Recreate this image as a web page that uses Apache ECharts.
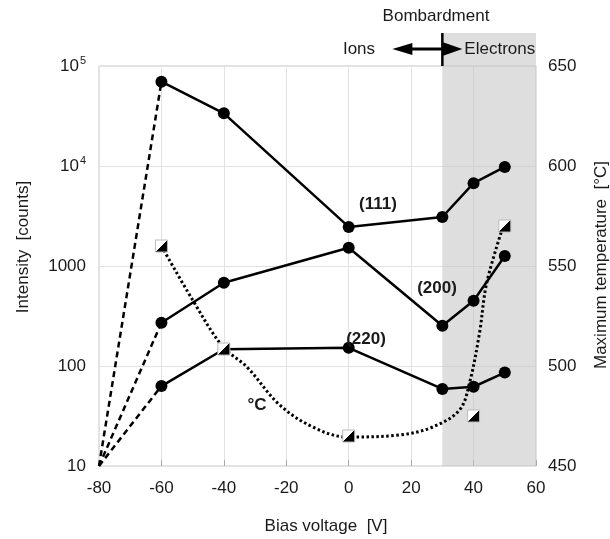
<!DOCTYPE html>
<html>
<head>
<meta charset="utf-8">
<script src="https://cdn.jsdelivr.net/npm/echarts@6/dist/echarts.min.js"></script>
<style>
html,body{margin:0;padding:0;background:#fff;}
#c{width:610px;height:539px;}
</style>
</head>
<body>
<div id="c"></div>
<script>
// ---- data ----
const xTicks = [-80, -60, -40, -20, 0, 20, 40, 60];
const leftTicks = [10, 100, 1000, 10000, 100000];
const rightTicks = [450, 500, 550, 600, 650];
const biasV = [-60, -40, 0, 30, 40, 50];
const i111 = [69700, 33600, 2460, 3090, 6740, 9780];
const i200 = [271, 681, 1524, 253, 450, 1259];
const i220 = [63, 147, 152, 59, 62, 86];
const origin = [-80, 10];
const tempV = [-60, -40, 0, 40, 50];
const tempC = [560, 508.5, 465, 475, 570];
// dotted fitted temperature curve
const tempCurveX = [-60, -50, -40.5, -32.6, -22.1, -11.5, -0.6, 16.3, 26.9, 35.5, 38.7, 41.9, 44.2, 49.5];
const tempCurveY = [560, 533, 510, 499.5, 480.5, 469.5, 464.5, 465.5, 469.5, 478, 491.5, 516.5, 541.5, 570];
const shadeRange = [30, 60];

const FONT = 'Liberation Sans, Arial, sans-serif';
const TXT = '#1a1a1a';

const chart = echarts.init(document.getElementById('c'), null, {renderer: 'canvas'});

function pairs(xs, ys) { return xs.map((x, i) => [x, ys[i]]); }

const triFill = new echarts.graphic.LinearGradient(0, 0, 1, 1, [
  {offset: 0, color: '#ffffff'}, {offset: 0.5, color: '#ffffff'},
  {offset: 0.5, color: '#000000'}, {offset: 1, color: '#000000'}
]);

const solid = (name, ys) => ({
  name, type: 'line', xAxisIndex: 0, yAxisIndex: 0,
  data: pairs(biasV, ys), symbol: 'circle', symbolSize: 12,
  lineStyle: {color: '#000', width: 2.5}, itemStyle: {color: '#000'}, z: 5,
  animation: false
});
const dashFromOrigin = (ys) => ({
  type: 'line', xAxisIndex: 0, yAxisIndex: 0,
  data: [origin, [biasV[0], ys[0]]], symbol: 'none',
  lineStyle: {color: '#000', width: 2.5, type: [6, 4]}, z: 3, animation: false
});

const option = {
  backgroundColor: '#fff',
  animation: false,
  grid: {left: 99, right: 74, top: 66, bottom: 73, show: true, borderColor: '#c8c8c8', borderWidth: 1},
  xAxis: {
    type: 'value', min: -80, max: 60, interval: 20,
    axisLine: {show: false},
    axisTick: {show: true, inside: true, length: 6, lineStyle: {color: '#aaa'}},
    splitLine: {show: true, lineStyle: {color: '#e2e2e2', width: 1}},
    axisLabel: {color: TXT, fontSize: 17, fontFamily: FONT, margin: 14,
      formatter: v => xTicks.includes(v) ? String(v) : ''}
  },
  yAxis: [{
    type: 'log', logBase: 10, min: 10, max: 100000,
    axisLine: {show: false},
    axisTick: {show: false},
    splitLine: {show: true, lineStyle: {color: '#e2e2e2', width: 1}},
    axisLabel: {
      color: TXT, fontSize: 17, fontFamily: FONT, margin: 13,
      formatter: v => {
        if (!leftTicks.includes(Math.round(v))) return '';
        if (v >= 10000) return '10{sup|' + Math.round(Math.log10(v)) + '}';
        return String(Math.round(v));
      },
      rich: {sup: {fontSize: 11, fontFamily: FONT, color: TXT, verticalAlign: 'top', padding: [0, 0, 10, 1]}}
    }
  }, {
    type: 'value', min: 450, max: 650, interval: 50, position: 'right',
    axisLine: {show: false}, axisTick: {show: false}, splitLine: {show: false},
    axisLabel: {color: TXT, fontSize: 17, fontFamily: FONT, margin: 12,
      formatter: v => rightTicks.includes(v) ? String(v) : ''}
  }],
  series: [
    {
      type: 'line', xAxisIndex: 0, yAxisIndex: 0, data: [], symbol: 'none',
      markArea: {silent: true, itemStyle: {color: 'rgba(195,195,195,0.55)'},
        data: [[{xAxis: shadeRange[0]}, {xAxis: shadeRange[1]}]]},
      z: 1
    },
    dashFromOrigin(i111), dashFromOrigin(i200), dashFromOrigin(i220),
    solid('(111)', i111), solid('(200)', i200), solid('(220)', i220),
    {
      type: 'line', xAxisIndex: 0, yAxisIndex: 1, smooth: 0.35,
      data: pairs(tempCurveX, tempCurveY), symbol: 'none',
      lineStyle: {color: '#000', width: 3, type: [2.5, 2.5]}, z: 4
    },
    {
      type: 'scatter', xAxisIndex: 0, yAxisIndex: 1,
      data: pairs(tempV, tempC), symbol: 'rect', symbolSize: 12,
      itemStyle: {color: triFill, borderColor: '#bbb', borderWidth: 1, opacity: 1}, z: 6
    }
  ]
};
chart.setOption(option);

const x30 = chart.convertToPixel({xAxisIndex: 0}, shadeRange[0]);
const x60 = chart.convertToPixel({xAxisIndex: 0}, shadeRange[1]);
const yTop = chart.convertToPixel({yAxisIndex: 0}, 100000);
const ay = 49;

const bold = {fontSize: 17, fontWeight: 'bold', fontFamily: FONT, fill: TXT, align: 'center', verticalAlign: 'middle'};
const norm = {fontSize: 17, fontFamily: FONT, fill: TXT, align: 'center', verticalAlign: 'middle'};

chart.setOption({
  graphic: [
    {type: 'rect', shape: {x: x30, y: 33, width: x60 - x30, height: yTop - 33}, style: {fill: 'rgba(195,195,195,0.55)'}, z: 0, silent: true},
    {type: 'line', shape: {x1: x30 - 40, y1: ay, x2: x30 + 5, y2: ay}, style: {stroke: '#000', lineWidth: 3}, z: 10},
    {type: 'polygon', shape: {points: [[x30 - 50, ay], [x30 - 30, ay - 6], [x30 - 30, ay + 6]]}, style: {fill: '#000'}, z: 10},
    {type: 'polygon', shape: {points: [[x30 + 20, ay], [x30, ay - 7], [x30, ay + 7]]}, style: {fill: '#000'}, z: 10},
    {type: 'line', shape: {x1: x30, y1: 33, x2: x30, y2: yTop}, style: {stroke: '#000', lineWidth: 2.5}, z: 10},
    {type: 'text', x: 436, y: 16, style: Object.assign({text: 'Bombardment'}, norm), z: 10},
    {type: 'text', x: 359, y: ay, style: Object.assign({text: 'Ions'}, norm), z: 10},
    {type: 'text', x: x30 + 22, y: ay, style: Object.assign({text: 'Electrons'}, norm, {align: 'left'}), z: 10},
    {type: 'text', x: 378, y: 204, style: Object.assign({text: '(111)'}, bold), z: 10},
    {type: 'text', x: 437, y: 288, style: Object.assign({text: '(200)'}, bold), z: 10},
    {type: 'text', x: 366, y: 339, style: Object.assign({text: '(220)'}, bold), z: 10},
    {type: 'text', x: 257, y: 405, style: Object.assign({text: '°C'}, bold), z: 10},
    {type: 'text', x: 326, y: 526, style: Object.assign({text: 'Bias voltage  [V]'}, norm), z: 10},
    {type: 'text', x: 23, y: 247, rotation: Math.PI / 2, style: Object.assign({text: 'Intensity  [counts]'}, norm), z: 10},
    {type: 'text', x: 601, y: 265, rotation: Math.PI / 2, style: Object.assign({text: 'Maximum temperature  [°C]'}, norm), z: 10}
  ]
});
</script>
</body>
</html>
